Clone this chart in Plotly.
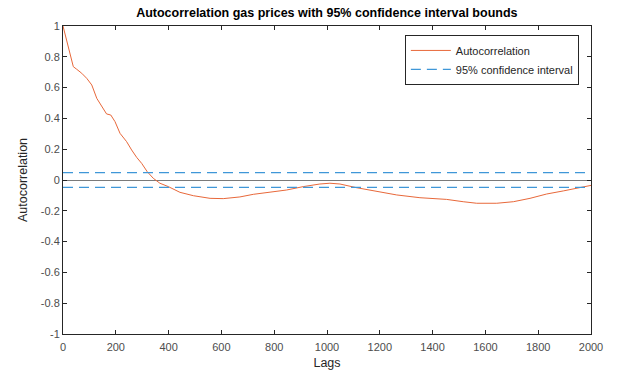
import plotly.graph_objects as go

# ---- data ----
lags = [0, 20, 39, 52, 71, 90, 109, 128, 147, 165, 181, 197, 216, 241, 260, 279, 298,
        319, 342, 367, 399, 443, 494, 557, 607, 670, 721, 784, 847, 910, 973, 1011,
        1049, 1112, 1175, 1264, 1352, 1453, 1516, 1567, 1643, 1706, 1769, 1832, 1895,
        1945, 2000]
acf = [1.0, 0.866, 0.736, 0.719, 0.693, 0.66, 0.617, 0.53, 0.476, 0.429, 0.422, 0.379,
       0.303, 0.249, 0.195, 0.147, 0.108, 0.054, 0.011, -0.021, -0.043, -0.08, -0.102,
       -0.119, -0.121, -0.110, -0.093, -0.08, -0.065, -0.043, -0.026, -0.021, -0.026,
       -0.05, -0.071, -0.097, -0.115, -0.126, -0.141, -0.151, -0.151, -0.141, -0.119,
       -0.091, -0.071, -0.054, -0.035]
conf_bound = 0.0476
x_range = [0, 2000]
x_ticks = [0, 200, 400, 600, 800, 1000, 1200, 1400, 1600, 1800, 2000]
y_ticks = [-1, -0.8, -0.6, -0.4, -0.2, 0, 0.2, 0.4, 0.6, 0.8, 1]
y_tick_text = ["-1", "-0.8", "-0.6", "-0.4", "-0.2", "0", "0.2", "0.4", "0.6", "0.8", "1"]

FONT = "Arial, Liberation Sans, Helvetica, sans-serif"
ORANGE = "#E8683A"
BLUE = "#3F97D8"

fig = go.Figure()
fig.add_trace(go.Scatter(x=lags, y=acf, mode="lines", name="Autocorrelation",
                         line=dict(color=ORANGE, width=1)))
fig.add_trace(go.Scatter(x=x_range, y=[conf_bound, conf_bound], mode="lines",
                         name="95% confidence interval",
                         line=dict(color=BLUE, width=1.2, dash="10px,6px")))
fig.add_trace(go.Scatter(x=x_range, y=[-conf_bound, -conf_bound], mode="lines",
                         showlegend=False,
                         line=dict(color=BLUE, width=1.2, dash="10px,6px")))

axis_common = dict(showgrid=False, showline=True, linecolor="#262626", linewidth=1,
                   mirror="ticks", ticks="inside", ticklen=4, tickcolor="#262626",
                   tickfont=dict(family=FONT, size=11, color="#4D4D4D"))

fig.update_xaxes(range=x_range, tickvals=x_ticks, zeroline=False, ticklabelstandoff=3,
                 title=dict(text="Lags", font=dict(family=FONT, size=12.5, color="#262626"),
                            standoff=6),
                 **axis_common)
fig.update_yaxes(range=[-1, 1], tickvals=y_ticks, ticktext=y_tick_text,
                 zeroline=True, zerolinecolor="#7A7A7A", zerolinewidth=1.3,
                 title=dict(text="Autocorrelation", font=dict(family=FONT, size=12.5, color="#262626"),
                            standoff=10),
                 **axis_common)

fig.update_layout(
    width=619, height=379,
    margin=dict(l=63, r=28, t=26, b=45),
    paper_bgcolor="white", plot_bgcolor="white",
    font=dict(family=FONT),
    title=dict(text="<b>Autocorrelation gas prices with 95% confidence interval bounds</b>",
               font=dict(family=FONT, size=12.5, color="black"),
               x=0.528, xanchor="center", y=1 - 13 / 379, yanchor="middle"),
    legend=dict(x=0.977, xanchor="right", y=0.971, yanchor="top",
                bgcolor="white", bordercolor="#262626", borderwidth=1,
                font=dict(family=FONT, size=11, color="#262626"),
                itemwidth=40, tracegroupgap=0),
    showlegend=True,
)

fig.write_html("out.html", config={"displayModeBar": False},
               post_script="document.body.style.margin='0';")
